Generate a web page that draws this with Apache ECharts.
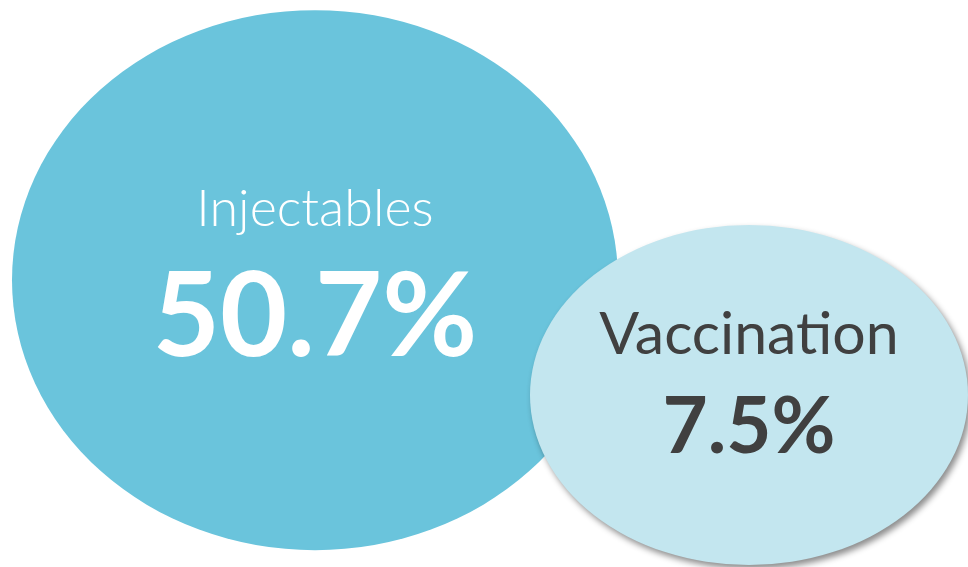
<!DOCTYPE html>
<html>
<head>
<meta charset="utf-8">
<script src="https://cdn.jsdelivr.net/npm/echarts@6/dist/echarts.min.js"></script>
<style>
  html, body { margin: 0; padding: 0; background: #fff; }
  #container1 { width: 968px; height: 567px; }
</style>
</head>
<body>
<div id="container1"></div>
<script>
// data
var categories = ['Injectables', 'Vaccination'];
var shares = [50.7, 7.5];

// look of each bubble (not data)
var bubbleSizes = [[606, 540], [438, 340]];
var bubbleColors = ['#6AC4DC', '#C3E6EF'];
var textColors = ['#ffffff', '#404040'];
var nameSizes = [52, 59];
var valueSizes = [116, 78];
var nameHeights = [97, 103];
var valueHeights = [122, 82];
var nameWeights = [300, 400];
var labelOffsets = [[0, -10], [0, -19]];

function createBubbles(){
  var dom = document.getElementById("container1");
  var myChart = echarts.init(dom);

  var seriesData = categories.map(function (c, i) {
    return {
      name: c,
      value: [c, shares[i]],
      symbolSize: bubbleSizes[i],
      itemStyle: {
        color: bubbleColors[i],
        opacity: 1,
        shadowColor: i == 1 ? 'rgba(0,0,0,0.45)' : 'rgba(0,0,0,0)',
        shadowBlur: i == 1 ? 6 : 0,
        shadowOffsetX: i == 1 ? 3 : 0,
        shadowOffsetY: i == 1 ? 4 : 0
      },
      label: {
        offset: labelOffsets[i],
        rich: {
          n: {
            fontFamily: 'Lato',
            fontSize: nameSizes[i],
            fontWeight: nameWeights[i],
            color: textColors[i],
            lineHeight: nameHeights[i]
          },
          v: {
            fontFamily: 'Lato',
            fontSize: valueSizes[i],
            fontWeight: 'bold',
            color: textColors[i],
            lineHeight: valueHeights[i]
          }
        }
      }
    };
  });

  var option = {
    animation: false,
    grid: { left: 98, width: 868, top: 149, height: 266 },
    xAxis: {
      type: 'category',
      data: categories,
      show: false
    },
    yAxis: {
      type: 'value',
      min: 0,
      max: 100,
      show: false
    },
    series: [
      {
        type: 'scatter',
        symbol: 'circle',
        data: seriesData,
        label: {
          show: true,
          position: 'inside',
          align: 'center',
          verticalAlign: 'middle',
          formatter: function (p) {
            return '{n|' + p.name + '}\n{v|' + p.value[1] + '%}';
          }
        },
        emphasis: { disabled: true }
      }
    ]
  };
  myChart.setOption(option);
}
createBubbles();
</script>
</body>
</html>
